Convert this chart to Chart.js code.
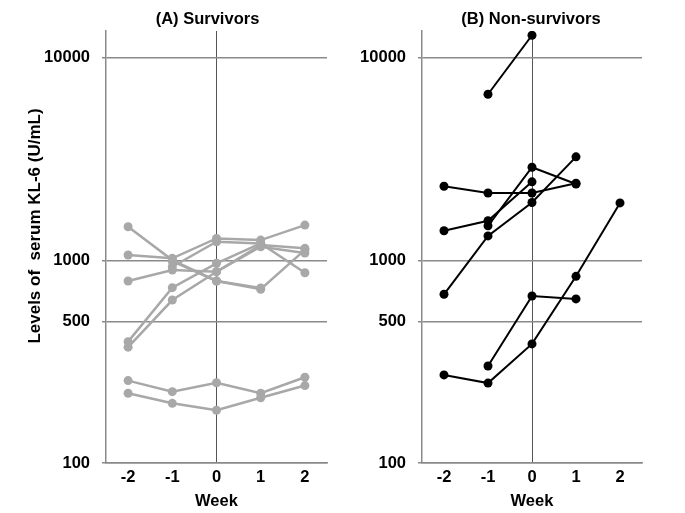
<!DOCTYPE html>
<html>
<head>
<meta charset="utf-8">
<script src="https://cdn.jsdelivr.net/npm/chart.js@4.4.1/dist/chart.umd.min.js"></script>
<style>
  html, body { margin: 0; padding: 0; background: #fff; }
  #wrap { position: relative; width: 685px; height: 513px; }
  canvas { position: absolute; top: 0; }
</style>
</head>
<body>
<div id="wrap">
  <canvas id="survivorsChart" width="340" height="513" style="left:0px"></canvas>
  <canvas id="nonSurvivorsChart" width="345" height="513" style="left:340px"></canvas>
</div>
<script>
// week axis and log tick labels
var weeks = [-2, -1, 0, 1, 2];
var yTicks = [100, 500, 1000, 10000];

// (A) survivors, one array per patient (null = not measured)
var surv1 = [1464, 1003, 791, 720, 1127];
var surv2 = [1062, 1023, 1283, 1259, 1493];
var surv3 = [791, 896, 879, 1167, 1087];
var surv4 = [397, 733, 967, 1212, 869];
var surv5 = [373, 637, 879, 1190, 1146];
var surv6 = [null, 930, 1235, 1212, null];
var surv7 = [null, 990, 791, 730, null];
var surv8 = [255, 225, 249, 221, 265];
var surv9 = [221, 197, 182, 210, 241];

// (B) non-survivors
var nonSurv1 = [null, 6600, 12900, null, null];
var nonSurv2 = [2320, 2150, 2150, 2400, null];
var nonSurv3 = [1400, 1567, 2440, null, null];
var nonSurv4 = [null, 1480, 2880, 2380, null];
var nonSurv5 = [680, 1320, 1930, 3240, null];
var nonSurv6 = [272, 248, 387, 834, 1920];
var nonSurv7 = [null, 301, 667, 645, null];

var survivorSeries = [surv1, surv2, surv3, surv4, surv5, surv6, surv7, surv8, surv9];
var nonSurvivorSeries = [nonSurv1, nonSurv2, nonSurv3, nonSurv4, nonSurv5, nonSurv6, nonSurv7];

var FONT = '"Liberation Sans", Arial, sans-serif';
var gridGray = '#8a8a8a';

// draws panel title and the rotated y label
var panelText = {
    id: 'panelText',
    afterDraw: function(chart, args, opts) {
        var ctx = chart.ctx;
        ctx.save();
        ctx.fillStyle = '#000';
        ctx.textAlign = 'center';
        ctx.textBaseline = 'middle';
        ctx.font = 'bold 16.5px ' + FONT;
        ctx.fillText(opts.title, opts.titleX, 19);
        if (opts.yLabel) {
            ctx.translate(35, 226);
            ctx.rotate(-Math.PI / 2);
            ctx.font = 'bold 17px ' + FONT;
            ctx.fillText(opts.yLabel, 0, 0);
        }
        ctx.restore();
    }
};

function makePanel(canvasId, series, color, lineWidth, yWidth, rightPad, title, titleX, yLabel) {
    var datasets = series.map(function(vals) {
        return {
            data: weeks.map(function(w, i) { return { x: w, y: vals[i] }; }),
            borderColor: color,
            backgroundColor: color,
            borderWidth: lineWidth,
            pointRadius: 4.5,
            pointBorderWidth: 0,
            pointHoverRadius: 4.5,
            tension: 0,
            spanGaps: false
        };
    });
    var tickFont = { family: FONT, size: 16.5, weight: 'bold' };
    return new Chart(document.getElementById(canvasId).getContext('2d'), {
        type: 'line',
        data: { datasets: datasets },
        plugins: [panelText],
        options: {
            responsive: false,
            animation: false,
            layout: { padding: { top: 31, right: rightPad, left: 0, bottom: 0 } },
            plugins: {
                legend: { display: false },
                tooltip: { enabled: false },
                panelText: { title: title, titleX: titleX, yLabel: yLabel }
            },
            scales: {
                x: {
                    type: 'linear',
                    min: -2.5,
                    max: 2.5,
                    afterBuildTicks: function(s) { s.ticks = weeks.map(function(v) { return { value: v }; }); },
                    afterFit: function(s) { s.height = 50; },
                    ticks: { font: tickFont, color: '#000', padding: 5, callback: function(v) { return String(v); } },
                    grid: {
                        drawTicks: false,
                        lineWidth: 1,
                        color: function(c) { return c.tick && c.tick.value === 0 ? '#555' : 'rgba(0,0,0,0)'; }
                    },
                    border: { display: true, color: gridGray, width: 1.5 },
                    title: { display: true, text: 'Week', color: '#000', font: tickFont, padding: { top: 0, bottom: 2 } }
                },
                y: {
                    type: 'logarithmic',
                    min: 100,
                    max: 13540,
                    afterBuildTicks: function(s) { s.ticks = yTicks.map(function(v) { return { value: v }; }); },
                    afterFit: function(s) { s.width = yWidth; },
                    ticks: { font: tickFont, color: '#000', padding: 12, callback: function(v) { return String(v); } },
                    grid: { color: gridGray, lineWidth: 1.5, drawTicks: true, tickLength: 4 },
                    border: { display: true, color: gridGray, width: 1.5 }
                }
            }
        }
    });
}

document.addEventListener('DOMContentLoaded', function() {
    makePanel('survivorsChart', survivorSeries, '#a8a8a8', 2.5, 106, 13, '(A) Survivors', 207.5, 'Levels of  serum KL-6 (U/mL)');
    makePanel('nonSurvivorsChart', nonSurvivorSeries, '#000000', 2, 82, 43, '(B) Non-survivors', 191, null);
});
</script>
</body>
</html>
